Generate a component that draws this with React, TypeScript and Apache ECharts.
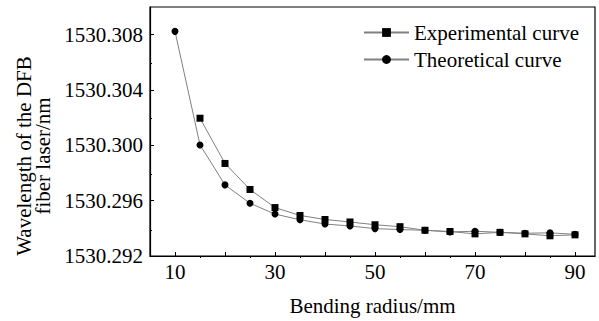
import React, { useEffect, useRef } from "react";
import * as echarts from "echarts";

const radiusExperimental = [15, 20, 25, 30, 35, 40, 45, 50, 55, 60, 65, 70, 75, 80, 85, 90];
const wavelengthExperimental = [
  1530.30196, 1530.29869, 1530.29681, 1530.2955, 1530.29493, 1530.29464, 1530.29446, 1530.29426,
  1530.29412, 1530.29386, 1530.29377, 1530.2936, 1530.29371, 1530.2936, 1530.29346, 1530.29353,
];
const radiusTheoretical = [10, 15, 20, 25, 30, 35, 40, 45, 50, 55, 60, 65, 70, 75, 80, 85, 90];
const wavelengthTheoretical = [
  1530.30824, 1530.30003, 1530.29714, 1530.29581, 1530.29503, 1530.29462, 1530.29431, 1530.29417,
  1530.29398, 1530.29391, 1530.29386, 1530.29374, 1530.29379, 1530.29371, 1530.29365, 1530.29367,
  1530.29357,
];

const xMajorTicks = [10, 20, 30, 40, 50, 60, 70, 80, 90];
const xMinorTicks = [15, 25, 35, 45, 55, 65, 75, 85];
const xTickLabels = [10, 30, 50, 70, 90];
const yMajorTicks = [1530.292, 1530.296, 1530.3, 1530.304, 1530.308];
const yMinorTicks = [1530.294, 1530.298, 1530.302, 1530.306];

const X_MIN = 5;
const X_MAX = 94;
const Y_MIN = 1530.292;
const Y_MAX = 1530.31;

const FONT = "'Liberation Serif', 'Times New Roman', serif";

export default function App() {
  const ref = useRef<HTMLDivElement>(null);

  useEffect(() => {
    if (!ref.current) return;
    const chart = echarts.init(ref.current, undefined, { renderer: "svg" });
    const gridPos = { left: 150, right: 4, top: 7, bottom: 63 };
    const pairs = (xs: number[], ys: number[]) => xs.map((x, i) => [x, ys[i]]);

    chart.setOption({
      animation: false,
      backgroundColor: "#fff",
      grid: [
        { ...gridPos, show: true, borderColor: "#000", borderWidth: 1.2, backgroundColor: "transparent" },
        { ...gridPos, show: false },
      ],
      xAxis: [
        {
          type: "value",
          gridIndex: 0,
          min: X_MIN,
          max: X_MAX,
          axisLine: { show: true, lineStyle: { color: "#000", width: 1.2 } },
          axisTick: { show: true, inside: true, length: 4, customValues: xMajorTicks, lineStyle: { color: "#000" } },
          axisLabel: {
            customValues: xTickLabels,
            fontFamily: FONT,
            fontSize: 21,
            color: "#000",
            margin: 5,
          },
          splitLine: { show: false },
          name: "Bending radius/mm",
          nameLocation: "middle",
          nameGap: 39,
          nameTextStyle: { fontFamily: FONT, fontSize: 21, color: "#000" },
        },
        {
          type: "value",
          gridIndex: 1,
          min: X_MIN,
          max: X_MAX,
          axisLine: { show: false },
          axisTick: { show: true, inside: true, length: 2, customValues: xMinorTicks, lineStyle: { color: "#000" } },
          axisLabel: { show: false },
          splitLine: { show: false },
        },
      ],
      yAxis: [
        {
          type: "value",
          gridIndex: 0,
          min: Y_MIN,
          max: Y_MAX,
          axisLine: { show: true, lineStyle: { color: "#000", width: 1.2 } },
          axisTick: { show: true, inside: true, length: 4, customValues: yMajorTicks, lineStyle: { color: "#000" } },
          axisLabel: {
            customValues: yMajorTicks,
            formatter: (v: number) => v.toFixed(3),
            fontFamily: FONT,
            fontSize: 21,
            color: "#000",
            margin: 7,
          },
          splitLine: { show: false },
        },
        {
          type: "value",
          gridIndex: 1,
          min: Y_MIN,
          max: Y_MAX,
          axisLine: { show: false },
          axisTick: { show: true, inside: true, length: 2, customValues: yMinorTicks, lineStyle: { color: "#000" } },
          axisLabel: { show: false },
          splitLine: { show: false },
        },
      ],
      legend: {
        orient: "vertical",
        left: 358,
        top: 17,
        itemWidth: 45,
        itemHeight: 11,
        itemGap: 6,
        textStyle: { fontFamily: FONT, fontSize: 21, color: "#000", lineHeight: 21 },
        data: ["Experimental curve", "Theoretical curve"],
      },
      graphic: [
        {
          type: "text",
          x: 33,
          y: 156,
          rotation: Math.PI / 2,
          style: {
            text: "Wavelength of the DFB\nfiber laser/nm",
            font: `21px ${FONT}`,
            fill: "#000",
            textAlign: "center",
            textVerticalAlign: "middle",
            lineHeight: 19,
          },
        },
      ],
      series: [
        {
          name: "Experimental curve",
          type: "line",
          xAxisIndex: 0,
          yAxisIndex: 0,
          data: pairs(radiusExperimental, wavelengthExperimental),
          symbol: "rect",
          symbolSize: 7,
          lineStyle: { color: "#808080", width: 1 },
          itemStyle: { color: "#000" },
          z: 3,
        },
        {
          name: "Theoretical curve",
          type: "line",
          xAxisIndex: 0,
          yAxisIndex: 0,
          data: pairs(radiusTheoretical, wavelengthTheoretical),
          symbol: "circle",
          symbolSize: 7,
          lineStyle: { color: "#808080", width: 1 },
          itemStyle: { color: "#000" },
          z: 2,
        },
      ],
    });
    return () => chart.dispose();
  }, []);

  return <div ref={ref} style={{ width: 599, height: 321, position: "absolute", left: 0, top: 0 }} />;
}
